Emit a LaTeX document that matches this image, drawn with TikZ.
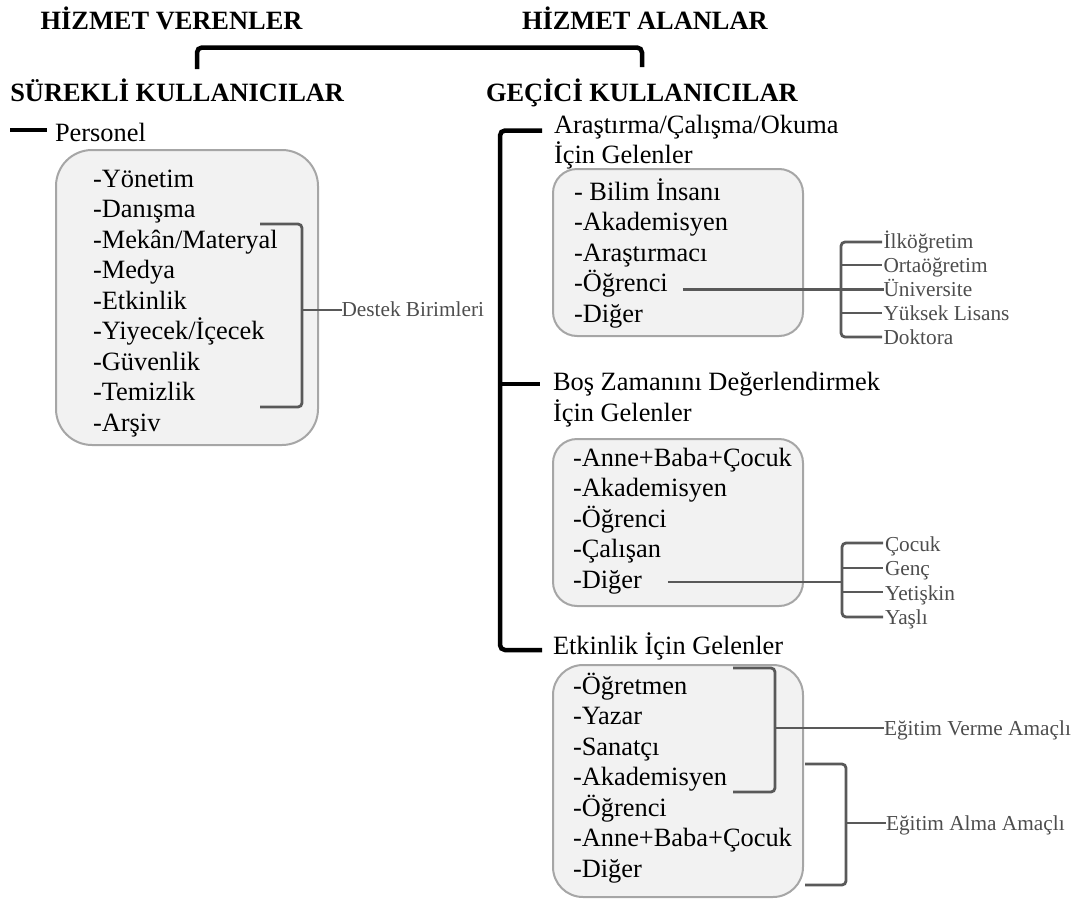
\documentclass[tikz,border=0pt]{standalone}
\usepackage{fontspec}
\setmainfont{Liberation Serif}
\definecolor{boxfill}{HTML}{F2F2F2}
\definecolor{boxgray}{HTML}{A6A6A6}
\definecolor{brgray}{HTML}{595959}
\definecolor{labgray}{HTML}{4D4D4D}
\begin{document}
\begin{tikzpicture}[x=1pt,y=-1pt,
  every node/.style={inner sep=0pt, outer sep=0pt},
  head/.style={anchor=base west, font=\fontsize{26.4}{30}\selectfont\bfseries},
  txt/.style={anchor=base west, font=\fontsize{26.4}{30}\selectfont},
  glab/.style={anchor=base west, text=labgray, font=\fontsize{21.3}{24}\selectfont},
  panel/.style={draw=boxgray, fill=boxfill, line width=2pt, anchor=north west},
  blackbr/.style={draw=black, line width=4.5pt, rounded corners=5pt},
  gbr/.style={draw=brgray, line width=2.8pt, rounded corners=4pt},
  gline/.style={draw=brgray, line width=2.8pt},
]
\useasboundingbox (0,0) rectangle (1080,900);

% headings
\node[head] (hv) at (40.6,29) {HİZMET VERENLER};
\node[head] (ha) at (522,29) {HİZMET ALANLAR};
\node[head] (sk) at (10.3,101.6) {SÜREKLİ KULLANICILAR};
\node[head] (gk) at (486,101.6) {GEÇİCİ KULLANICILAR};

% top bracket
\coordinate (tbl) at (197,69);
\coordinate (tbr) at (642,67);
\draw[blackbr] (tbl) -- (tbl |- 0,47.5) -- (tbr |- 0,47.5) -- (tbr);

% Personel
\node[txt] (pers) at (55,141) {Personel};
\coordinate (persl) at (10,130);
\draw[line width=4.5pt] (persl) -- (46.5,130);

% box 1
\node[panel, rounded corners=36pt, minimum width=262pt, minimum height=295pt] (box1) at (56,150) {};
\foreach \t [count=\i from 0] in {-Yönetim,-Danışma,-Mekân/Materyal,-Medya,-Etkinlik,-Yiyecek/İçecek,-Güvenlik,-Temizlik,-Arşiv}
  \node[txt] (b1-\i) at (93,187+30.5*\i) {\t};
\draw[gbr] (260,224) -- (302,224) -- (302,407) -- (260,407);
\node[glab] (destek) at (341.5,316.5) {Destek Birimleri};
\draw[gline] (302,310) -- (destek.west |- 0,310);

% right big bracket
\node[txt] (g1a) at (554,133) {Araştırma/Çalışma/Okuma};
\node[txt] (g1b) at (554,163.5) {İçin Gelenler};
\node[txt] (g2a) at (553,390) {Boş Zamanını Değerlendirmek};
\node[txt] (g2b) at (553,421) {İçin Gelenler};
\node[txt] (g3a) at (553,654) {Etkinlik İçin Gelenler};
\draw[blackbr] (542,130.5) -- (500,130.5) -- (500,650) -- (542,650);
\draw[line width=4.5pt] (500,384) -- (540,384);

% box 2
\node[panel, rounded corners=24pt, minimum width=250pt, minimum height=167pt] (box2) at (553,169) {};
\foreach \t [count=\i from 0] in {- Bilim İnsanı,-Akademisyen,-Araştırmacı,-Öğrenci,-Diğer}
  \node[txt] (b2-\i) at (574,200.5+30.4*\i) {\t};
\foreach \t [count=\i from 0] in {İlköğretim,Ortaöğretim,Üniversite,Yüksek Lisans,Doktora}
  \node[glab] (e-\i) at (883.5,248+24*\i) {\t};
\draw[gbr] (882,242) -- (841,242) -- (841,337) -- (882,337);
\draw[gline] (841,265) -- (882,265);
\draw[gline] (841,313) -- (882,313);
\coordinate (o2) at ([xshift=15pt]b2-3.base east);
\draw[gline] (o2 |- 0,289.5) -- (e-2.west |- 0,289.5);

% box 3
\node[panel, rounded corners=24pt, minimum width=250pt, minimum height=167pt] (box3) at (553,439) {};
\foreach \t [count=\i from 0] in {-Anne+Baba+Çocuk,-Akademisyen,-Öğrenci,-Çalışan,-Diğer}
  \node[txt] (b3-\i) at (573,466+30.5*\i) {\t};
\foreach \t [count=\i from 0] in {Çocuk,Genç,Yetişkin,Yaşlı}
  \node[glab] (a-\i) at (885,551+24.5*\i) {\t};
\draw[gbr] (883,543) -- (842,543) -- (842,617) -- (883,617);
\draw[gline] (842,568) -- (883,568);
\draw[gline] (842,592) -- (883,592);
\coordinate (o3) at ([xshift=26pt]b3-4.base east);
\draw[gline] (o3 |- 0,582) -- (842,582);

% box 4
\node[panel, rounded corners=30pt, minimum width=250pt, minimum height=232pt] (box4) at (553,665) {};
\foreach \t [count=\i from 0] in {-Öğretmen,-Yazar,-Sanatçı,-Akademisyen,-Öğrenci,-Anne+Baba+Çocuk,-Diğer}
  \node[txt] (b4-\i) at (573,694+30.5*\i) {\t};
\draw[gbr] (733,668) -- (775,668) -- (775,792) -- (733,792);
\node[glab] (verme) at (884,735) {Eğitim Verme Amaçlı};
\draw[gline] (775,728) -- (verme.west |- 0,728);
\draw[gbr] (805,764) -- (846,764) -- (846,885) -- (805,885);
\node[glab] (alma) at (886,830) {Eğitim Alma Amaçlı};
\draw[gline] (846,823) -- (alma.west |- 0,823);
\end{tikzpicture}
\end{document}
